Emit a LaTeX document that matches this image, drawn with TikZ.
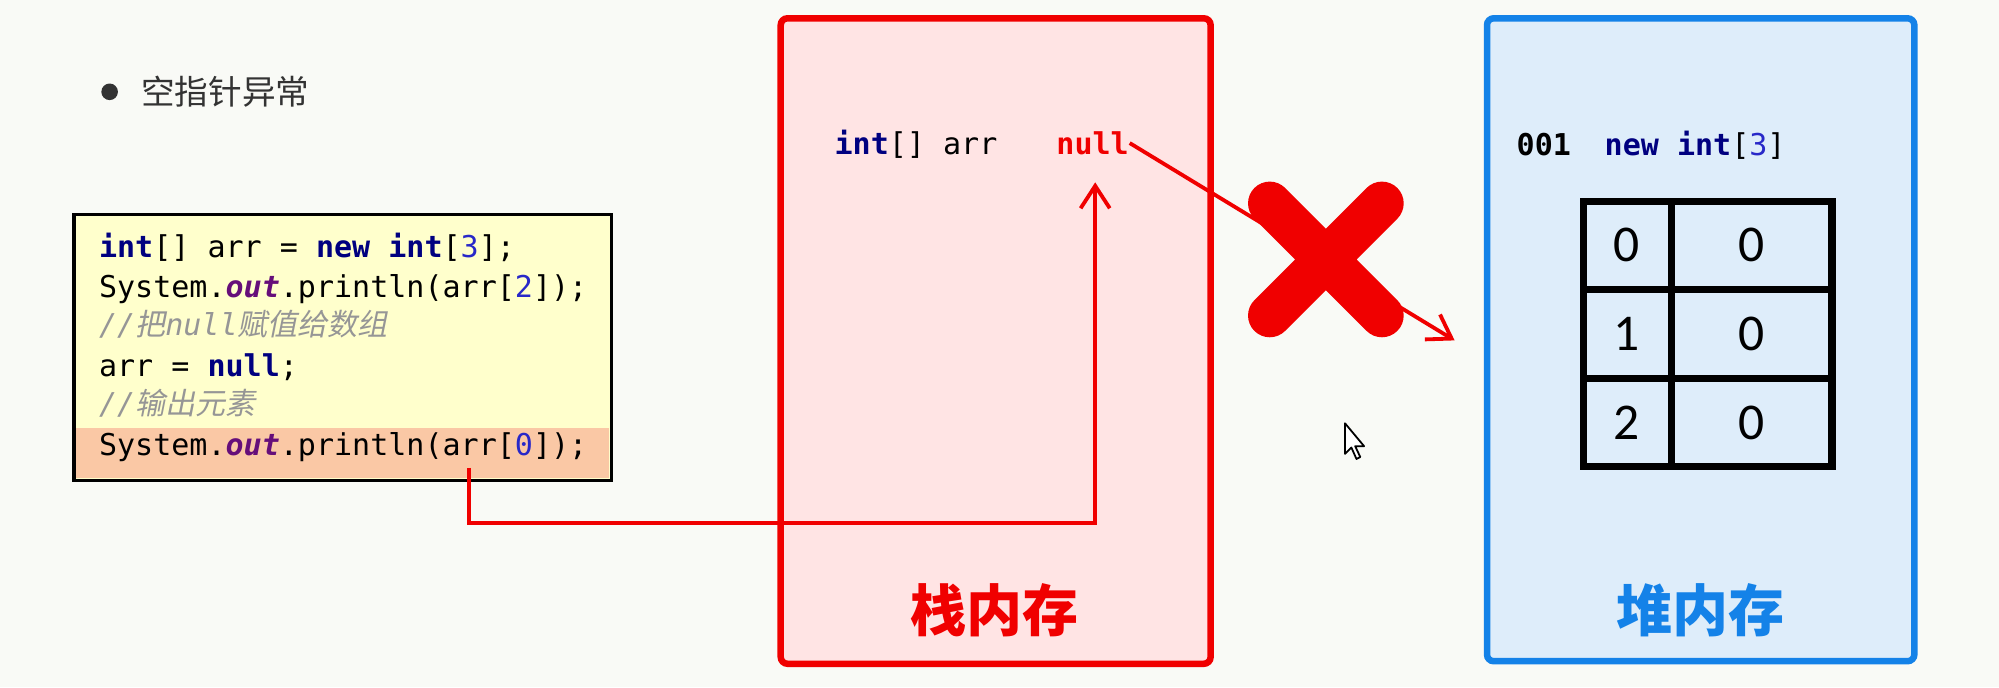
\documentclass[tikz,border=0pt]{standalone}
\usepackage{fontspec}
\usetikzlibrary{arrows.meta,calc}
\setmainfont{Carlito}
\setmonofont{DejaVu Sans Mono}
\newfontfamily\cjk{Noto Sans CJK SC}
\newfontfamily\cjksl{Noto Sans CJK SC}[FakeSlant=0.2]
\definecolor{bg}{RGB}{249,250,246}
\definecolor{kwblue}{RGB}{0,0,128}
\definecolor{numblue}{RGB}{40,40,200}
\definecolor{outpurple}{RGB}{102,14,122}
\definecolor{cmtgray}{RGB}{150,150,150}
\definecolor{codebg}{RGB}{255,255,204}
\definecolor{hlbg}{RGB}{250,200,165}
\definecolor{stackred}{RGB}{240,0,0}
\definecolor{stackfill}{RGB}{255,228,228}
\definecolor{heapblue}{RGB}{20,130,232}
\definecolor{heapfill}{RGB}{222,237,250}
\definecolor{xred}{RGB}{240,0,0}
\definecolor{titlegray}{RGB}{51,51,51}
\newcommand\jkw[1]{\textcolor{kwblue}{\bfseries #1}}
\newcommand\jnum[1]{\textcolor{numblue}{#1}}
\newcommand\jout{\textcolor{outpurple}{\bfseries\itshape out}}
\begin{document}
\begin{tikzpicture}[x=0.01cm,y=-0.01cm,
  codeline/.style={anchor=base west,inner sep=0pt,font=\ttfamily\fontsize{6.7}{8}\selectfont},
  codebold/.style={codeline,font=\ttfamily\bfseries\fontsize{6.7}{8}\selectfont},
  memlabel/.style={inner sep=0pt,font=\cjk\bfseries\fontsize{12.5}{14}\selectfont},
  membox/.style={line width=1.45pt,rounded corners=1.5pt,inner sep=0pt},
  cell/.style={inner sep=0pt,font=\fontsize{11.5}{13}\selectfont},
  gridline/.style={line width=1.7pt},
  redarrow/.style={draw=stackred,line width=0.85pt,-{Straight Barb[length=5pt,width=6.5pt,line width=0.85pt]}},
]
\fill[bg] (0,0) rectangle (1568,539);
\useasboundingbox (0,0) rectangle (1568,539);

% title
\fill[titlegray] (86,72) circle[radius=1.85pt];
\node[anchor=west,inner sep=0pt,font=\cjk\fontsize{7.5}{9}\selectfont,text=titlegray] (title) at (110,72) {空指针异常};

% code box
\node[fill=codebg,minimum width=4.2cm,minimum height=2.07cm,inner sep=0pt] (code) at (269,272.5) {};
\fill[hlbg] (60,336) rectangle (478,375);
\draw[line width=0.75pt] (code.north west) rectangle (code.south east);
\node[codeline] (l1) at (77,202) {\jkw{int}[] arr = \jkw{new} \jkw{int}[\jnum{3}];};
\node[codeline] (l2) at (77,233) {System.\jout.println(arr[\jnum{2}]);};
\node[codeline,text=cmtgray] (l3) at (77,263) {\itshape //{\cjksl 把}null{\cjksl 赋值给数组}};
\node[codeline] (l4) at (77,295) {arr = \jkw{null};};
\node[codeline,text=cmtgray] (l5) at (77,325) {\itshape //{\cjksl 输出元素}};
\node[codeline] (l6) at (77,357) {System.\jout.println(arr[\jnum{0}]);};

% stack memory
\node[membox,draw=stackred,fill=stackfill,minimum width=3.37cm,minimum height=5.06cm] (stack) at (781,267.5) {};
\node[codeline] (svar) at (654,121) {\jkw{int}[] arr};
\node[codebold,text=stackred] (null) at (828,121) {null};
\node[memlabel,text=stackred] (stacklbl) at (780,479) {栈内存};

% heap memory
\node[membox,draw=heapblue,fill=heapfill,minimum width=3.35cm,minimum height=5.04cm] (heap) at (1334,266.5) {};
\node[codebold] (addr) at (1189,122) {001};
\node[codeline] (newarr) at (1258,122) {\jkw{new} \jkw{int}[\jnum{3}]};
\node[memlabel,text=heapblue] (heaplbl) at (1334,479) {堆内存};

% array table
\node[draw,gridline,minimum width=1.95cm,minimum height=2.08cm,inner sep=0pt] (tbl) at (1339.5,262) {};
\draw[gridline] (1311,158) -- (1311,366);
\draw[gridline] (1242,227) -- (1437,227);
\draw[gridline] (1242,297) -- (1437,297);
\node[cell] (i0) at (1276,192.5) {0};
\node[cell] (v0) at (1374,192.5) {0};
\node[cell] (i1) at (1276,262) {1};
\node[cell] (v1) at (1374,262) {0};
\node[cell] (i2) at (1276,331.5) {2};
\node[cell] (v2) at (1374,331.5) {0};

% connectors
\coordinate (src) at (368,367);
\draw[redarrow] (src) -- (368,410) -| ($(null.south)+(2,21)$);
\coordinate (heaptip) at (1141,267);
\draw[redarrow] (null.east) -- (heaptip);

% cross
\draw[xred,line width=9.7pt,line cap=round] (996,159.5) -- (1084,247.5) (1084,159.5) -- (996,247.5);

% mouse pointer
\draw[fill=white,line width=0.4pt,line join=round] (1055,332) -- ++(0,24) -- ++(5,-5) -- ++(4,9) -- ++(3,-1.5) -- ++(-4,-8.5) -- ++(7,0) -- cycle;
\end{tikzpicture}
\end{document}
